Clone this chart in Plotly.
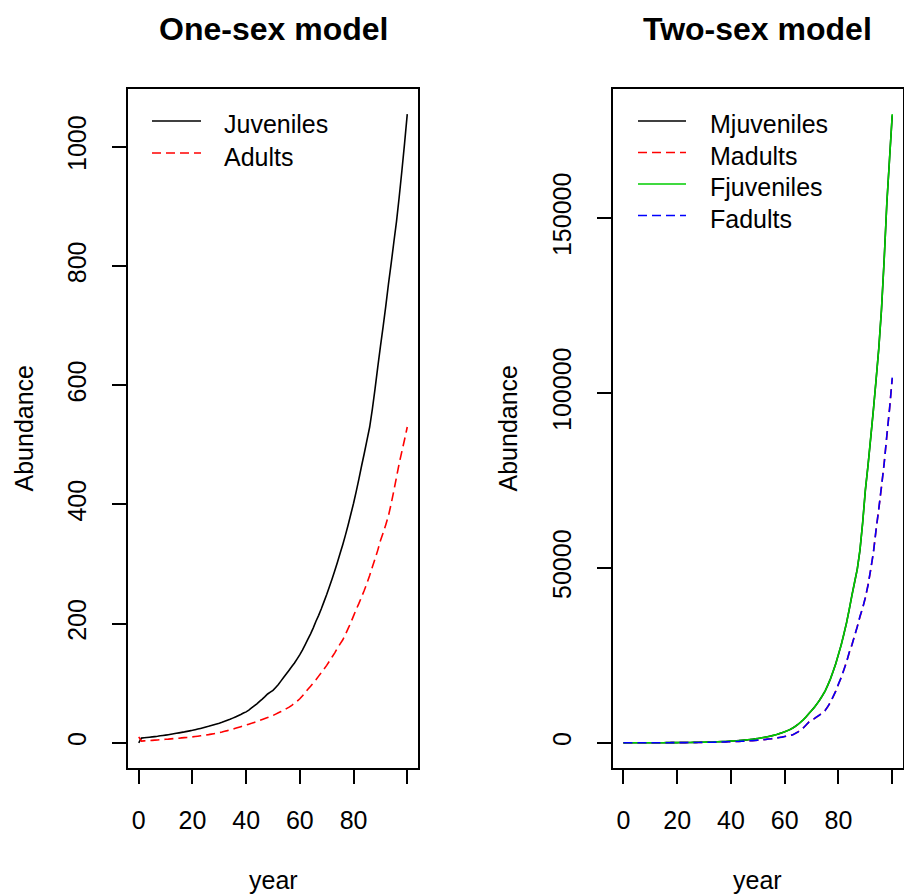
import plotly.graph_objects as go

W, H = 904, 896

years = list(range(101))

# One-sex model
juveniles = [0, 8, 8.5, 9, 9.5, 10, 10.5, 11, 11.8, 12.4, 13,
             13.7, 14.4, 15.2, 16, 16.8, 17.6, 18.4, 19.3, 20.1, 21,
             22, 23.1, 24.2, 25.4, 26.6, 27.8, 29.1, 30.4, 31.7, 33,
             34.5, 36.2, 37.9, 39.6, 41.5, 43.5, 45.6, 47.7, 50, 52,
             55, 58.5, 62, 65.6, 69.5, 73.4, 77.5, 82, 85, 88,
             93, 98, 104, 110, 116, 122, 128, 134, 141, 148,
             156, 165, 174, 183, 193, 204, 214, 225, 237, 249,
             262, 275, 289, 303, 318, 333, 349, 366, 384, 402,
             422, 443, 465, 486, 508, 530, 560, 594, 630, 665,
             698, 733, 770, 804, 840, 875, 916, 960, 1006, 1055]
adults = [10, 3, 3.3, 3.6, 3.9, 4.2, 4.5, 4.9, 5.2, 5.6, 6,
          6.3, 6.7, 7.1, 7.5, 7.8, 8.3, 8.7, 9.1, 9.6, 10,
          10.6, 11.2, 11.8, 12.4, 13.1, 13.8, 14.6, 15.3, 16.1, 17,
          18.1, 19.3, 20.5, 21.8, 23, 24.4, 25.8, 27.2, 28.6, 30,
          31.4, 32.8, 34.3, 35.9, 37.5, 39.1, 40.8, 42.5, 44.2, 46,
          48.2, 50.4, 52.7, 55.1, 57.5, 60, 63, 66.5, 70, 74,
          79, 84.5, 90, 95, 100.5, 106, 112, 118, 124, 130,
          137, 144, 151, 159, 166, 173, 182, 192, 202, 213,
          224, 234, 245, 256, 268, 281, 295, 309, 323, 339,
          352, 366, 381, 401, 423, 446, 469, 489, 509, 530]

# Two-sex model
mjuveniles = [0, 12, 14, 15, 17, 19, 21, 23, 25, 27, 30,
              33, 36, 40, 43, 48, 52, 57, 63, 69, 76,
              83, 91, 100, 110, 121, 132, 145, 160, 175, 192,
              211, 232, 255, 280, 307, 337, 370, 407, 447, 490,
              539, 591, 649, 713, 783, 860, 944, 1037, 1138, 1250,
              1372, 1507, 1654, 1816, 1994, 2190, 2404, 2640, 2899, 3183,
              3495, 3838, 4242, 4750, 5320, 5960, 6670, 7470, 8400, 9230,
              10140, 11150, 12250, 13460, 14800, 16420, 18290, 20380, 22700, 25290,
              28010, 31030, 34380, 38100, 42210, 45900, 49750, 55100, 63060, 72170,
              79500, 87210, 95370, 103780, 112920, 123830, 138270, 154390, 167090, 179340]
madults = [10, 12, 13, 14, 15, 17, 18, 20, 22, 24, 26,
           28, 31, 34, 37, 40, 43, 47, 51, 56, 61,
           66, 72, 78, 85, 93, 101, 110, 119, 130, 141,
           154, 167, 182, 198, 215, 234, 255, 277, 301, 328,
           356, 388, 422, 459, 499, 543, 590, 642, 699, 760,
           840, 914, 995, 1083, 1179, 1283, 1396, 1520, 1654, 1800,
           1960, 2133, 2310, 2700, 3170, 3720, 4360, 5110, 6000, 6460,
           6940, 7450, 8000, 8600, 9230, 10300, 11630, 13140, 14840, 16770,
           18690, 20810, 23170, 25760, 28060, 30560, 33290, 36050, 38640, 41420,
           45220, 49460, 54550, 60890, 67030, 73120, 80030, 87710, 95620, 104100]
fjuveniles = [0, 11, 14, 16, 17, 19, 21, 23, 26, 28, 30,
              33, 37, 40, 44, 47, 53, 58, 62, 70, 75,
              84, 92, 101, 109, 122, 134, 144, 158, 177, 194,
              209, 235, 252, 283, 310, 333, 374, 403, 452, 495,
              533, 597, 643, 720, 776, 868, 935, 1047, 1127, 1262,
              1360, 1520, 1640, 1832, 1978, 2210, 2385, 2662, 2875, 3200,
              3480, 3860, 4225, 4775, 5300, 5990, 6645, 7505, 8370, 9270,
              10110, 11200, 12210, 13520, 14750, 16490, 18230, 20460, 22630, 25400,
              27900, 31150, 34250, 38250, 42080, 46050, 49600, 55300, 62880, 72400,
              79300, 87450, 95150, 104050, 112700, 124100, 138000, 154700, 166800, 179700]
fadults = [10, 11, 13, 14, 16, 16, 18, 21, 22, 25, 26,
           29, 31, 33, 38, 40, 44, 46, 52, 55, 62,
           66, 73, 77, 86, 92, 102, 109, 121, 128, 143,
           152, 169, 180, 200, 213, 237, 252, 280, 298, 332,
           352, 392, 418, 464, 494, 549, 584, 649, 692, 768,
           832, 924, 985, 1094, 1167, 1296, 1382, 1535, 1637, 1818,
           1940, 2154, 2287, 2727, 3138, 3757, 4316, 5161, 5940, 6490,
           6910, 7490, 7960, 8650, 9190, 10350, 11580, 13200, 14790, 16850,
           18620, 20900, 23080, 25870, 27960, 30700, 33180, 36200, 38520, 41600,
           45050, 49700, 54380, 61100, 66850, 73380, 79800, 88000, 95400, 104400]

x_ticks = [0, 20, 40, 60, 80, 100]
x_ticktext = ["0", "20", "40", "60", "80", ""]
y1_ticks = [0, 200, 400, 600, 800, 1000]
y2_ticks = [0, 50000, 100000, 150000]

FONT = "Liberation Sans, Arial, Helvetica, sans-serif"
DASH = "9px,5px"
LW = 1.6
BLACK, RED, GREEN, BLUE = "black", "#FF0000", "#00CD00", "#0000FF"

# (name, values, colour, dash, panel)
series = [
    ("Juveniles", juveniles, BLACK, "solid", 1),
    ("Adults", adults, RED, DASH, 1),
    ("Mjuveniles", mjuveniles, BLACK, "solid", 2),
    ("Madults", madults, RED, DASH, 2),
    ("Fjuveniles", fjuveniles, GREEN, "solid", 2),
    ("Fadults", fadults, BLUE, DASH, 2),
]

fig = go.Figure()
for name, vals, col, dash, panel in series:
    fig.add_trace(go.Scatter(
        x=years, y=vals, mode="lines", name=name, showlegend=False,
        line=dict(color=col, width=LW, dash=dash, simplify=False),
        xaxis="x" if panel == 1 else "x2", yaxis="y" if panel == 1 else "y2"))


def r_range(vals):
    lo, hi = min(vals), max(vals)
    d = (hi - lo) * 0.04
    return [lo - d, hi + d]


top, bottom = 89, 768
ydom = [1 - bottom / H, 1 - top / H]
x1dom = [128 / W, 418 / W]
x2dom = [612.7 / W, 903 / W]

axis_common = dict(showline=True, linecolor="black", linewidth=1.5, mirror=True,
                   ticks="outside", ticklen=14, tickwidth=1.5, tickcolor="black",
                   showgrid=False, zeroline=False,
                   tickfont=dict(family=FONT, size=25, color="black"))

fig.update_layout(
    width=W, height=H,
    margin=dict(l=0, r=0, t=0, b=0),
    paper_bgcolor="white", plot_bgcolor="white",
    showlegend=False,
    xaxis=dict(domain=x1dom, range=r_range(years), tickvals=x_ticks, ticktext=x_ticktext,
               anchor="y", ticklabelstandoff=15, **axis_common),
    yaxis=dict(domain=ydom, range=r_range(juveniles + adults), tickvals=y1_ticks,
               tickangle=-90, anchor="x", ticklabelstandoff=16, tickformat="d", **axis_common),
    xaxis2=dict(domain=x2dom, range=r_range(years), tickvals=x_ticks, ticktext=x_ticktext,
                anchor="y2", ticklabelstandoff=15, **axis_common),
    yaxis2=dict(domain=ydom, range=r_range(mjuveniles + madults + fjuveniles + fadults),
                tickvals=y2_ticks, tickangle=-90, anchor="x2", ticklabelstandoff=16,
                tickformat="d", **axis_common),
)

ann_font = dict(family=FONT, size=25, color="black")
cx1 = (x1dom[0] + x1dom[1]) / 2
cx2 = (x2dom[0] + x2dom[1]) / 2
cy = (ydom[0] + ydom[1]) / 2
annotations = [
    dict(text="<b>One-sex model</b>", x=cx1, y=1 - 29 / H, font=dict(family=FONT, size=32, color="black")),
    dict(text="<b>Two-sex model</b>", x=cx2, y=1 - 29 / H, font=dict(family=FONT, size=32, color="black")),
    dict(text="year", x=cx1, y=1 - 880 / H, font=ann_font),
    dict(text="year", x=cx2, y=1 - 880 / H, font=ann_font),
    dict(text="Abundance", x=24 / W, y=cy, textangle=-90, font=ann_font),
    dict(text="Abundance", x=508 / W, y=cy, textangle=-90, font=ann_font),
]
for a in annotations:
    a.update(xanchor="center", yanchor="middle")

# Legend boxes (top-left of each panel), built from the series definitions
shapes = []
legend_layout = {1: dict(x0=152, x1=201, tx=222, y0=121, dy=32),
                 2: dict(x0=638, x1=686, tx=708, y0=121, dy=31.5)}
row = {1: 0, 2: 0}
for name, vals, col, dash, panel in series:
    L = legend_layout[panel]
    ypx = L["y0"] + row[panel] * L["dy"]
    row[panel] += 1
    shapes.append(dict(type="line", xref="paper", yref="paper",
                       x0=L["x0"] / W, x1=L["x1"] / W, y0=1 - ypx / H, y1=1 - ypx / H,
                       line=dict(color=col, width=LW, dash=dash)))
    annotations.append(dict(text=name, x=L["tx"] / W, y=1 - (ypx + 3.5) / H,
                            xanchor="left", yanchor="middle", font=ann_font))

for a in annotations:
    a.update(xref="paper", yref="paper", showarrow=False)
fig.update_layout(annotations=annotations, shapes=shapes)

fig.write_html("out.html")
